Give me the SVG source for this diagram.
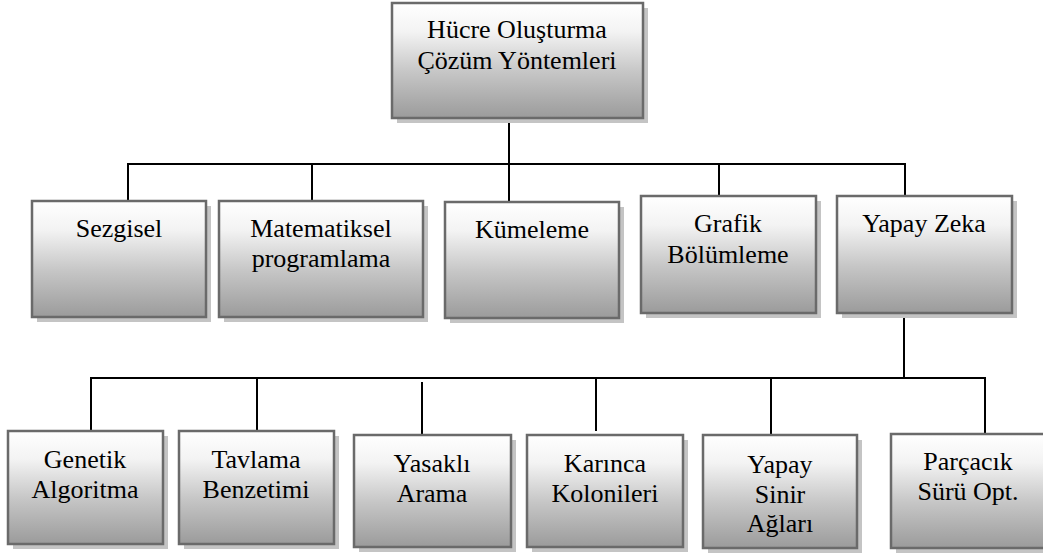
<svg xmlns="http://www.w3.org/2000/svg" width="1043" height="556" viewBox="0 0 1043 556">
  <defs>
    <linearGradient id="boxFill" x1="0" y1="0" x2="0" y2="1">
      <stop offset="0" stop-color="#ffffff"/>
      <stop offset="0.25" stop-color="#f3f3f3"/>
      <stop offset="0.6" stop-color="#c6c6c6"/>
      <stop offset="1" stop-color="#9b9b9b"/>
    </linearGradient>
  </defs>
  <style>
    .shadow { fill: #c4c4c4; }
    .box { fill: url(#boxFill); stroke: #6a6a6a; stroke-width: 2.5; }
    .label { font-family: "Liberation Serif", "Times New Roman", serif; font-size: 26px; fill: #000; text-anchor: middle; }
    .link { stroke: #000; stroke-width: 2; fill: none; }
  </style>
  <rect width="1043" height="556" fill="#ffffff"/>

  <!-- connectors -->
  <g id="connectors">
    <line class="link" x1="509" y1="118" x2="509" y2="164"/>
    <line class="link" x1="127" y1="164" x2="906" y2="164"/>
    <line class="link" x1="128" y1="164" x2="128" y2="201"/>
    <line class="link" x1="312" y1="164" x2="312" y2="201"/>
    <line class="link" x1="509" y1="164" x2="509" y2="202"/>
    <line class="link" x1="719" y1="164" x2="719" y2="196"/>
    <line class="link" x1="905" y1="164" x2="905" y2="196"/>
    <line class="link" x1="904" y1="313" x2="904" y2="378"/>
    <line class="link" x1="90" y1="378" x2="986" y2="378"/>
    <line class="link" x1="91" y1="378" x2="91" y2="431"/>
    <line class="link" x1="257" y1="378" x2="257" y2="431"/>
    <line class="link" x1="422" y1="382" x2="422" y2="435"/>
    <line class="link" x1="596" y1="378" x2="596" y2="431"/>
    <line class="link" x1="771" y1="378" x2="771" y2="435"/>
    <line class="link" x1="985" y1="378" x2="985" y2="434"/>
  </g>

  <!-- root -->
  <g id="node-root">
    <rect class="shadow" x="397" y="8" width="251" height="115"/>
    <rect class="box" x="392" y="3" width="251" height="115"/>
    <text class="label" x="517" y="38">Hücre Oluşturma</text>
    <text class="label" x="517" y="69">Çözüm Yöntemleri</text>
  </g>

  <!-- level 2 -->
  <g id="node-sezgisel">
    <rect class="shadow" x="37" y="206" width="174" height="116"/>
    <rect class="box" x="32" y="201" width="174" height="116"/>
    <text class="label" x="119" y="237">Sezgisel</text>
  </g>
  <g id="node-matematiksel">
    <rect class="shadow" x="224" y="206" width="204" height="116"/>
    <rect class="box" x="219" y="201" width="204" height="116"/>
    <text class="label" x="321" y="237">Matematiksel</text>
    <text class="label" x="321" y="267">programlama</text>
  </g>
  <g id="node-kumeleme">
    <rect class="shadow" x="450" y="207" width="174" height="116"/>
    <rect class="box" x="445" y="202" width="174" height="116"/>
    <text class="label" x="532" y="238">Kümeleme</text>
  </g>
  <g id="node-grafik">
    <rect class="shadow" x="646" y="201" width="175" height="117"/>
    <rect class="box" x="641" y="196" width="175" height="117"/>
    <text class="label" x="728" y="232">Grafik</text>
    <text class="label" x="728" y="263">Bölümleme</text>
  </g>
  <g id="node-yapay-zeka">
    <rect class="shadow" x="842" y="201" width="175" height="117"/>
    <rect class="box" x="837" y="196" width="175" height="117"/>
    <text class="label" x="924" y="232">Yapay Zeka</text>
  </g>

  <!-- level 3 -->
  <g id="node-genetik">
    <rect class="shadow" x="13" y="436" width="155" height="113"/>
    <rect class="box" x="8" y="431" width="155" height="113"/>
    <text class="label" x="85" y="468">Genetik</text>
    <text class="label" x="85" y="498">Algoritma</text>
  </g>
  <g id="node-tavlama">
    <rect class="shadow" x="184" y="436" width="155" height="113"/>
    <rect class="box" x="179" y="431" width="155" height="113"/>
    <text class="label" x="256" y="468">Tavlama</text>
    <text class="label" x="256" y="498">Benzetimi</text>
  </g>
  <g id="node-yasakli">
    <rect class="shadow" x="359" y="440" width="157" height="112"/>
    <rect class="box" x="354" y="435" width="157" height="112"/>
    <text class="label" x="432" y="472">Yasaklı</text>
    <text class="label" x="432" y="502">Arama</text>
  </g>
  <g id="node-karinca">
    <rect class="shadow" x="532" y="440" width="156" height="112"/>
    <rect class="box" x="527" y="435" width="156" height="112"/>
    <text class="label" x="605" y="472">Karınca</text>
    <text class="label" x="605" y="502">Kolonileri</text>
  </g>
  <g id="node-yapay-sinir">
    <rect class="shadow" x="708" y="440" width="154" height="113"/>
    <rect class="box" x="703" y="435" width="154" height="113"/>
    <text class="label" x="780" y="473">Yapay</text>
    <text class="label" x="780" y="503">Sinir</text>
    <text class="label" x="780" y="532">Ağları</text>
  </g>
  <g id="node-parcacik">
    <rect class="shadow" x="896" y="439" width="155" height="114"/>
    <rect class="box" x="891" y="434" width="155" height="114"/>
    <text class="label" x="968" y="470">Parçacık</text>
    <text class="label" x="968" y="500">Sürü Opt.</text>
  </g>
</svg>
